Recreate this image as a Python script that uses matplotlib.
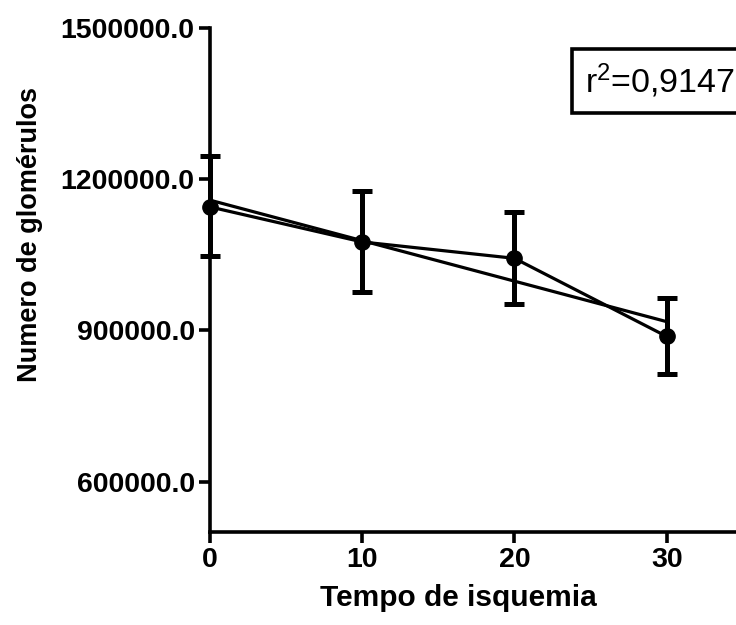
import matplotlib
matplotlib.use("Agg")
import matplotlib.pyplot as plt
import numpy as np

plt.rcParams['font.family'] = ['Liberation Sans', 'DejaVu Sans']
plt.rcParams['mathtext.fontset'] = 'custom'
plt.rcParams['mathtext.rm'] = 'Liberation Sans'
plt.rcParams['mathtext.it'] = 'Liberation Sans'
plt.rcParams['mathtext.bf'] = 'Liberation Sans:bold'

# Data
tempo = [0, 10, 20, 30]
glomerulos = [1145000, 1075500, 1043000, 888000]
erro_sup = [1245700, 1176200, 1134400, 964000]
erro_inf = [1048400, 976100, 951600, 814000]
y_ticks = [600000, 900000, 1200000, 1500000]
x_ticks = [0, 10, 20, 30]
r2_text = r"r$\mathregular{^2}$=0,9147"

yerr = [np.array(glomerulos) - np.array(erro_inf), np.array(erro_sup) - np.array(glomerulos)]

fig = plt.figure(figsize=(7.36, 6.25), dpi=100)
ax = fig.add_axes([210/736, 1-532/625, (742.8-210)/736, (532-28)/625])

# Linear regression
coef = np.polyfit(tempo, glomerulos, 1)
xr = np.array([tempo[0], tempo[-1]])
ax.plot(xr, np.polyval(coef, xr), color='black', lw=2.3, zorder=2)

ax.errorbar(tempo, glomerulos, yerr=yerr, color='black', lw=2.3, marker='o',
            markersize=11, elinewidth=3.6, capsize=7.5, capthick=3.6, zorder=3,
            clip_on=False)

ax.set_xlim(0, 35)
ax.set_ylim(500000, 1500000)
ax.set_xticks(x_ticks)
ax.set_yticks(y_ticks)
ax.set_yticklabels([f"{v:.1f}" for v in y_ticks])
for s in ['top', 'right']:
    ax.spines[s].set_visible(False)
for s in ['left', 'bottom']:
    ax.spines[s].set_linewidth(2.6)
ax.tick_params(width=2.6, length=8, labelsize=20.5, pad=3)
for lab in ax.get_xticklabels() + ax.get_yticklabels():
    lab.set_fontweight('bold')

ax.set_xlabel("Tempo de isquemia", fontsize=21.5, fontweight='bold')
ax.xaxis.set_label_coords((458-210)/532.8, (532-584)/504)
ax.set_ylabel("Numero de glomérulos", fontsize=19.5, fontweight='bold')
ax.yaxis.set_label_coords((43-210)/532.8, (532-235)/504)

ax.text((585-210)/532.8, (532-81)/504, r2_text, transform=ax.transAxes,
        fontsize=24.5, ha='left', va='center', clip_on=False,
        bbox=dict(boxstyle='square,pad=0.38', fc='white', ec='black', lw=2.6))

fig.savefig("out.png", dpi=100)
